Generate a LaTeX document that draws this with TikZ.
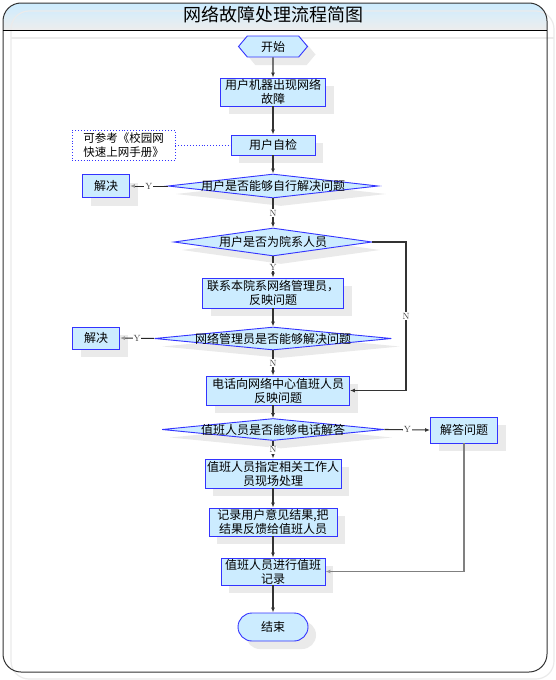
\documentclass[tikz,border=0pt]{standalone}
\usepackage{fontspec}
\newfontfamily\cjk{Noto Sans CJK SC}
\usetikzlibrary{shapes.geometric,shapes.symbols,arrows.meta,shadows}
\definecolor{nfill}{RGB}{204,236,255}
\definecolor{nline}{RGB}{51,51,255}
\definecolor{shadc}{RGB}{234,234,234}
\pgfdeclarelayer{bg}
\pgfsetlayers{bg,main}
\tikzset{
  shd/.style={drop shadow={shadow xshift=8pt,shadow yshift=-8pt,fill=shadc,opacity=1}},
  box/.style={draw=nline,fill=nfill,line width=0.9pt,inner sep=0pt,align=center,shd},
  proc/.style={box,rectangle},
  dia/.style={box,diamond},
  dtext/.style={label={[font=\cjk\fontsize{12}{14}\selectfont]center:#1}},
  ln/.style={draw=black!80,line width=1.1pt,-{Latex[length=5pt,width=4pt]}},
  lnl/.style={draw=black!85,line width=1pt,-{Latex[length=5pt,width=4pt,color=black!40]}},
  lng/.style={draw=black!50,line width=1.3pt,-{Latex[length=5pt,width=4pt,color=black!40]}},
  lab/.style={fill=white,inner sep=1pt,text=black!75,font=\normalfont\fontsize{9}{9}\selectfont},
}
\newcommand\lb[1]{#1}
\newcommand\flowconns{%
  \draw[ln] (st) -- (b1);
  \draw[ln] (b1) -- (b2);
  \draw[ln] (b2) -- (d1);
  \draw[lnl] (d1.west) -- node[lab]{\lb{Y}} (ok1.east);
  \draw[ln] (d1) -- node[lab]{\lb{N}} (d2);
  \draw[ln] (d2) -- node[lab]{\lb{Y}} (b3);
  \draw[ln] (d2.east) -- (d2.east -| cN) -- node[lab]{\lb{N}} (b4.east -| cN) -- (b4.east);
  \draw[ln] (b3) -- (d3);
  \draw[lnl] (d3.west) -- node[lab]{\lb{Y}} (ok2.east);
  \draw[ln] (d3.south) -- node[lab]{\lb{N}} (d3.south |- b4.north);
  \draw[ln] (b4.south -| d4.north) -- (d4.north);
  \draw[ln] (d4.east) -- node[lab]{\lb{Y}} (ans.west);
  \draw[ln] (d4) -- node[lab]{\lb{N}} (b5);
  \draw[ln] (b5) -- (b6);
  \draw[ln] (b6) -- (b7);
  \draw[lng] (ans.south) |- (b7.east);
  \draw[ln] (b7) -- (en);
}
\begin{document}
\begin{tikzpicture}[x=1pt,y=-1pt,font=\cjk\fontsize{12}{14}\selectfont]
\useasboundingbox (0,0) rectangle (555,680);
\fill[white] (0,0) rectangle (555,680);
% frame
\begin{scope}
  \clip[rounded corners=18] (3,3) rectangle (547,672);
  \shade[top color=nfill,middle color=white,bottom color=black!7] (3,3) rectangle (547,30);
\end{scope}
\draw[black!8,line width=1.2pt,rounded corners=18] (11,11) rectangle (554,679);
\draw[black!8,line width=1.2pt] (11,38) -- (554,38);
\draw[black!80,line width=1pt,rounded corners=18] (3,3) rectangle (547,672);
\draw[black,line width=1pt] (3,30) -- (547,30);
\node[font=\cjk\fontsize{18}{20}\selectfont] (title) at (273,15) {网络故障处理流程简图};
% nodes
\node[box,signal,signal to=west and east,signal pointer angle=100,minimum width=69,minimum height=21] (st) at (273,46.5) {开始};
\node[proc,minimum width=105,minimum height=28] (b1) at (273,92) {用户机器出现网络\\故障};
\node[draw=nline,dotted,line width=0.9pt,fill=white,minimum width=103,minimum height=30,inner sep=0pt,align=left,font=\cjk\fontsize{11.5}{14}\selectfont] (note) at (123.5,145) {可参考《校园网\\快速上网手册》};
\node[proc,minimum width=84,minimum height=20] (b2) at (273,145) {用户自检};
\node[dia,minimum width=210,minimum height=24,dtext={用户是否能够自行解决问题}] (d1) at (273,186) {};
\node[proc,minimum width=47,minimum height=23] (ok1) at (106,186) {解决};
\node[dia,minimum width=198,minimum height=28,dtext={用户是否为院系人员}] (d2) at (273,242) {};
\coordinate (cN) at (406,0);
\node[proc,minimum width=141,minimum height=30] (b3) at (273,293) {联系本院系网络管理员，\\反映问题};
\node[dia,minimum width=237,minimum height=23,dtext={网络管理员是否能够解决问题}] (d3) at (273,338.5) {};
\node[proc,minimum width=47,minimum height=22] (ok2) at (96,338) {解决};
\node[proc,minimum width=143,minimum height=29] (b4) at (278,390.5) {电话向网络中心值班人员\\反映问题};
\node[dia,minimum width=222,minimum height=22,dtext={值班人员是否能够电话解答}] (d4) at (273,429.5) {};
\node[proc,minimum width=67,minimum height=26] (ans) at (464,430) {解答问题};
\node[proc,minimum width=136,minimum height=29] (b5) at (273,473.5) {值班人员指定相关工作人\\员现场处理};
\node[proc,minimum width=128,minimum height=28] (b6) at (273,522) {记录用户意见结果,把\\结果反馈给值班人员};
\node[proc,minimum width=104,minimum height=27] (b7) at (273,571.5) {值班人员进行值班\\记录};
\node[box,rectangle,rounded corners=14,minimum width=70,minimum height=28] (en) at (273,627) {结束};
% connectors
\draw[nline,dotted,line width=0.9pt] (note.east) -- (b2.west);
\flowconns
\begin{pgfonlayer}{bg}
  \draw[black!12,dotted,line width=0.9pt] ([shift={(8,8)}]note.north west) rectangle ([shift={(8,8)}]note.south east);
  \begin{scope}[transform canvas={shift={(8pt,-8pt)}},
      ln/.style={draw=black!7,line width=1pt,-{Latex[length=5pt,width=4pt]}},
      lnl/.style={ln},lng/.style={ln},
      lab/.style={inner sep=0pt}]
    \renewcommand\lb[1]{}
    \flowconns
  \end{scope}
\end{pgfonlayer}
\end{tikzpicture}
\end{document}
